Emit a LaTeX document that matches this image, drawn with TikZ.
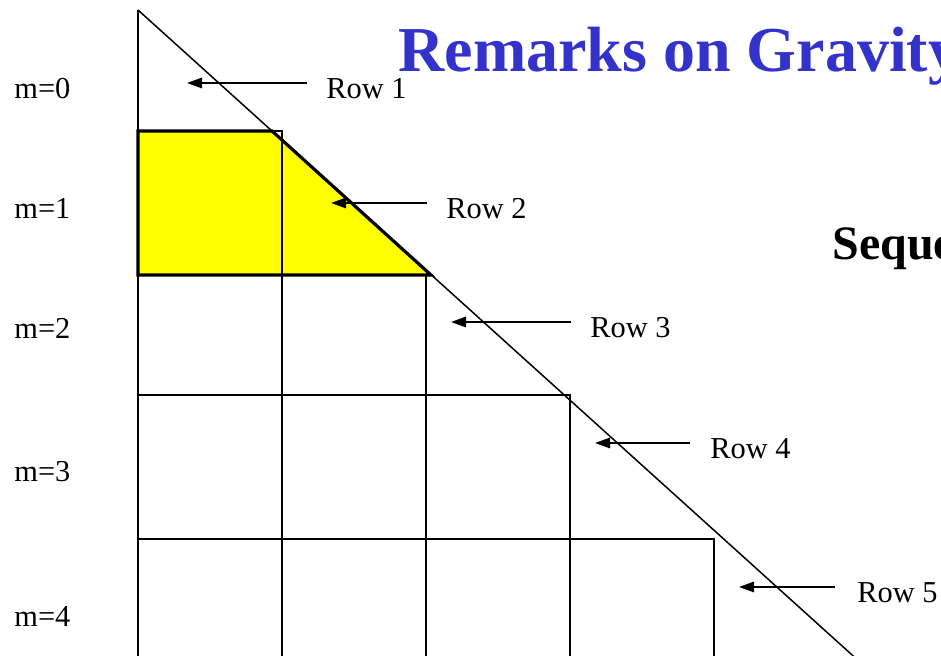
\documentclass[tikz,border=0pt]{standalone}
\usepackage{fontspec}
\setmainfont{Liberation Serif}
\usetikzlibrary{arrows.meta,positioning}
\definecolor{TitleBlue}{HTML}{3333CC}
\definecolor{Highlight}{HTML}{FFFF00}

\begin{document}
\begin{tikzpicture}[
  x=0.5pt,y=-0.5pt,
  title/.style={anchor=base west,inner sep=0pt,text=TitleBlue,font=\fontsize{32}{36}\selectfont\bfseries},
  subtitle/.style={anchor=base west,inner sep=0pt,font=\fontsize{24}{28}\selectfont\bfseries},
  mlabel/.style={anchor=base west,inner sep=0pt,font=\fontsize{15.2}{18}\selectfont},
  rowlabel/.style={anchor=base west,inner sep=0pt,font=\fontsize{15.2}{18}\selectfont},
  gridline/.style={line width=0.75pt},
  rowbox/.style={fill=Highlight,line width=1.6pt,line join=miter},
  arrow/.style={-{Triangle[length=7.5pt,width=5.2pt]},line width=1pt}
]
\useasboundingbox (0,0) rectangle (941,656);
\clip (0,0) rectangle (941,656);

% highlighted row m=1
\fill[Highlight] (138,131) -- (272,131) -- (431,275) -- (138,275) -- cycle;

% triangle edges and the row boxes
\coordinate (apex) at (138,10);
\coordinate (foot) at (913,710);
\draw[gridline] (apex) -- (foot);
\draw[gridline] (apex) -- (138,700);
\foreach \xr/\yt in {282/131,426/275,570/395,714/539}
  \draw[gridline] (138,\yt) rectangle (\xr,700);

\draw[rowbox,fill=none] (138,131) -- (272,131) -- (431,275) -- (138,275) -- cycle;

% m labels
\foreach \m/\yb in {0/99,1/219,2/339,3/482,4/626}
  \node[mlabel] (m\m) at (14,\yb) {m=\m};

% row labels and arrows
\foreach \i/\ya/\xs/\xt/\xl in {1/83/307/187/326,2/203/427/331/446,3/322/571/451/590,4/443/690/595/710,5/587/835/739/857}
{
  \node[rowlabel] (row\i) at (\xl,\ya+16) {Row \i};
  \coordinate (tail\i) at (\xs,\ya);
  \coordinate (tip\i) at (\xt,\ya);
  \draw[arrow] (tail\i) -- (tip\i);
}

% headings cut at the right edge
\node[title] (heading) at (398,72) {Remarks on Gravity};
\node[subtitle] (seq) at (832,260) {Seque};
\end{tikzpicture}
\end{document}
